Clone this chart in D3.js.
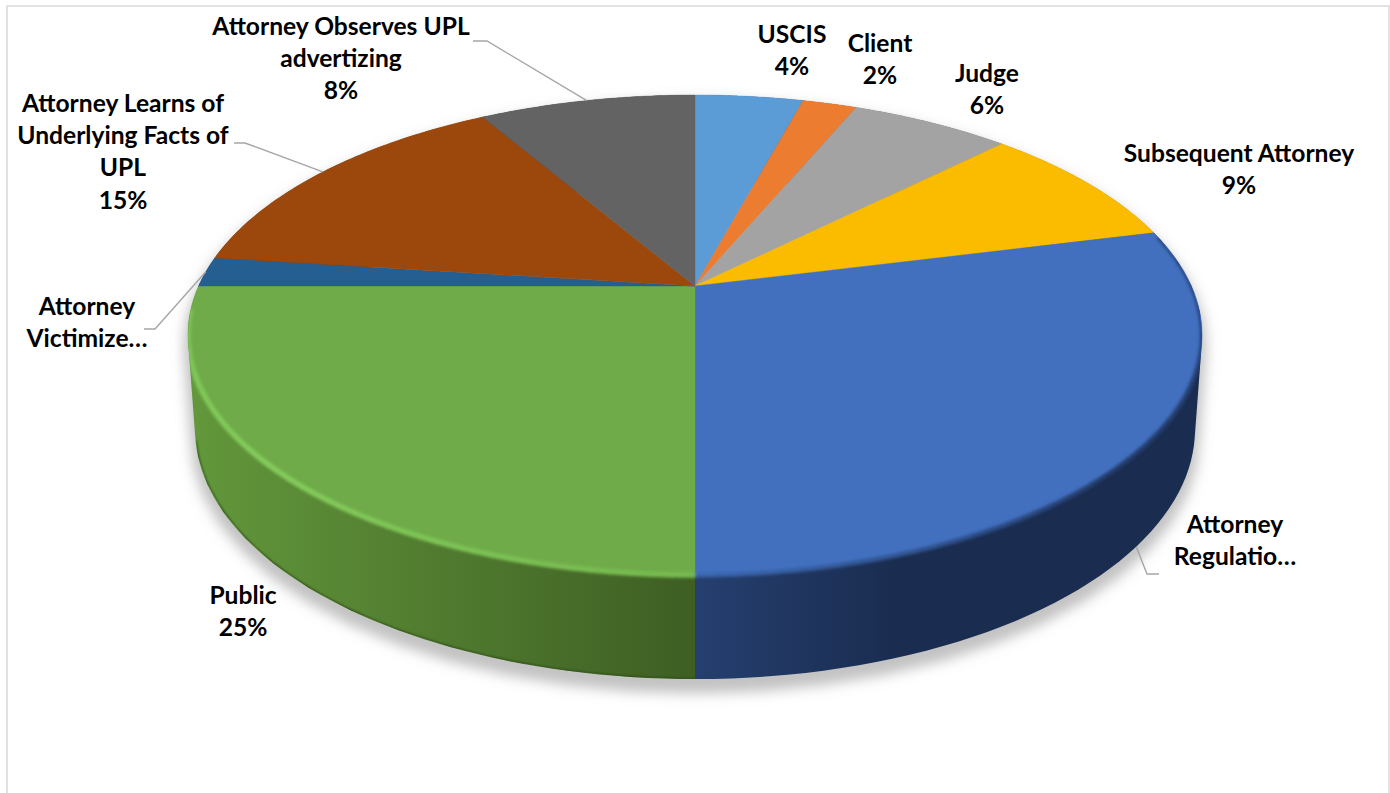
<!DOCTYPE html>
<html>
<head>
<meta charset="utf-8">
<script src="https://cdn.jsdelivr.net/npm/d3@7"></script>
<style>
body{margin:0;background:#fff;overflow:hidden}
text{font-family:Lato,"Open Sans",sans-serif;font-weight:700;font-size:24.6px;fill:#000;text-anchor:middle}
</style>
</head>
<body>
<script>
var categories = ['USCIS','Client','Judge','Subsequent Attorney','Attorney Regulation','Public','Attorney Victimized','Attorney Learns of Underlying Facts of UPL','Attorney Observes UPL advertizing'];
// read from the slice edges, the labels show these rounded
var values = [4.2,2.1,6.2,8.6,28.9,25,2,14.6,8.4];
var colors = ['#5b9bd6','#ec7c30','#a3a3a3','#fbbc00','#4270bf','#6fab49','#255e91','#9c480d','#636363'];

// what the labels really show, some are cut off in the original
var labelLines = [['USCIS'],['Client'],['Judge'],['Subsequent Attorney'],['Attorney','Regulatio…'],['Public'],['Attorney','Victimize…'],['Attorney Learns of','Underlying Facts of','UPL'],['Attorney Observes UPL','advertizing']];
var labelX = [792,880,987,1239,1235,243,87,123,341];
var labelTop = [35,44,74,154,525,596,307,104,27];
// elbow of the leader line, null = no leader
var leaderElbow = [null,null,null,null,[1147,574,1159],null,[155,329,144],[245,143,234],[487,41,473]];

var W = 1390, H = 793, lineH = 32.2;
var cx = 695, cy = 286, R = 496.4, B = 230, persp = 0.2042, depth = 92;

var svg = d3.select('body').append('svg').attr('width',W).attr('height',H);
var defs = svg.append('defs');

function addBlur(id,sd){
	defs.append('filter').attr('id',id)
		.attr('x','-10%').attr('y','-10%').attr('width','120%').attr('height','120%')
		.append('feGaussianBlur').attr('stdDeviation',sd);
}
addBlur('shadowBlur',7);
addBlur('rimBlur',1.6);
addBlur('edgeBlur',.8);

function grad(id,x1,x2,c1,c2){
	var g = defs.append('linearGradient').attr('id',id).attr('gradientUnits','userSpaceOnUse')
		.attr('x1',x1).attr('x2',x2).attr('y1',0).attr('y2',0);
	g.append('stop').attr('offset',0).attr('stop-color',c1);
	g.append('stop').attr('offset',1).attr('stop-color',c2);
}
grad('wallPublic',195,695,'#62973b','#3e5e23');
grad('wallReg',695,900,'#253f70','#1a2c4f');

// disc angle (clockwise from top) to screen, with the perspective of the tilted pie
// the bottom disc sits a little narrower and rounder than the top one
function project(a,d){
	var s = Math.sin(a), c = Math.cos(a), w = 1 + persp*c;
	var shrinkX = d ? 0.986 : 1, stretchY = d ? 1.0417 : 1;
	return [cx + shrinkX*R*s/w, cy + (d||0) - stretchY*B*c/w];
}
function arcPoints(a0,a1,d){
	return d3.range(0,61).map(function(i){ return project(a0+(a1-a0)*i/60,d); });
}

var pie = d3.pie().sort(null).value(function(d){return d;});
var slices = pie(values);
var openLine = d3.line();
var closedLine = d3.line().curve(d3.curveLinearClosed);

svg.append('rect').attr('x',7).attr('y',6).attr('width',1382).attr('height',H)
	.attr('fill','#fff').attr('stroke','#d9d9d9').attr('stroke-width',1.5);

function hullOf(a0,a1){
	return d3.polygonHull(arcPoints(a0,a1,0).concat(arcPoints(a0,a1,depth)));
}
var silhouette = hullOf(0,2*Math.PI);

svg.append('path').attr('d',closedLine(silhouette))
	.attr('fill','#8f8f8f').attr('fill-opacity',.5)
	.attr('stroke','#8f8f8f').attr('stroke-width',8).attr('stroke-opacity',.5)
	.attr('transform','translate(0,10)')
	.attr('filter','url(#shadowBlur)');

defs.append('clipPath').attr('id','pieClip').append('path').attr('d',closedLine(silhouette));

// walls
svg.append('g').selectAll('path').data(slices).join('path')
	.attr('d',function(d){ return closedLine(hullOf(d.startAngle,d.endAngle)); })
	.attr('fill',function(d,i){
		if(categories[i]=='Public') return 'url(#wallPublic)';
		if(categories[i]=='Attorney Regulation') return 'url(#wallReg)';
		return d3.color(colors[i]).darker(1.4);
	});

var pub = slices[5], reg = slices[4];

// dark line at the foot of the green wall
svg.append('path').attr('clip-path','url(#pieClip)').attr('filter','url(#edgeBlur)')
	.attr('d',openLine(arcPoints(pub.startAngle,pub.endAngle-.25,depth)))
	.attr('fill','none').attr('stroke','#2f4a1a').attr('stroke-width',2.2);

// top face
svg.append('g').selectAll('path').data(slices).join('path')
	.attr('d',function(d){
		return closedLine([[cx,cy]].concat(arcPoints(d.startAngle,d.endAngle,0)));
	})
	.attr('fill',function(d,i){return colors[i];})
	.attr('stroke',function(d,i){return colors[i];})
	.attr('stroke-width',.4);

// bevel along the rim, short pieces so the colour can drift along it
function rimBand(g,a0,a1,c0,c1,width){
	var n = 24, col = d3.interpolateRgb(c0,c1);
	d3.range(n).forEach(function(i){
		var from = a0+(a1-a0)*i/n, to = a0+(a1-a0)*(i+1.15)/n;
		g.append('path').attr('d',openLine(arcPoints(from,Math.min(to,a1),0)))
			.attr('stroke',col(i/(n-1))).attr('stroke-width',width);
	});
}
var rim = svg.append('g').attr('clip-path','url(#pieClip)').attr('fill','none').attr('filter','url(#rimBlur)');
rimBand(rim,reg.startAngle+.02,reg.startAngle+1.0,'#2b4a84','#233c6c',4.5);
rimBand(rim,reg.startAngle+1.0,reg.endAngle,'#233c6c','#3a66ad',4.5);
rimBand(rim,pub.startAngle,pub.startAngle+.8,'#76ba4f','#84cb5c',5.5);
rimBand(rim,pub.startAngle+.8,pub.endAngle-.1,'#84cb5c','#7cc455',5.5);

// leaders, they start at the middle of the slice on the visible edge
slices.forEach(function(d,i){
	var e = leaderElbow[i];
	if(!e) return;
	var mid = (d.startAngle+d.endAngle)/2;
	var onWall = Math.cos(mid) < 0 && categories[i]=='Attorney Regulation';
	var p = project(mid,onWall?depth:0);
	svg.append('path').attr('d',openLine([p,[e[0],e[1]],[e[2],e[1]]]))
		.attr('fill','none').attr('stroke','#a6a6a6').attr('stroke-width',1.4);
});

// labels
var pct = d3.format('.0f');
labelLines.forEach(function(lines,i){
	var shown = lines.slice();
	if(lines[lines.length-1].indexOf('…')<0) shown.push(pct(values[i])+'%');
	var t = svg.append('text').attr('x',labelX[i]).attr('y',labelTop[i]+8);
	shown.forEach(function(s,j){
		t.append('tspan').attr('x',labelX[i]).attr('y',labelTop[i]+8+j*lineH).text(s);
	});
});
</script>
</body>
</html>
